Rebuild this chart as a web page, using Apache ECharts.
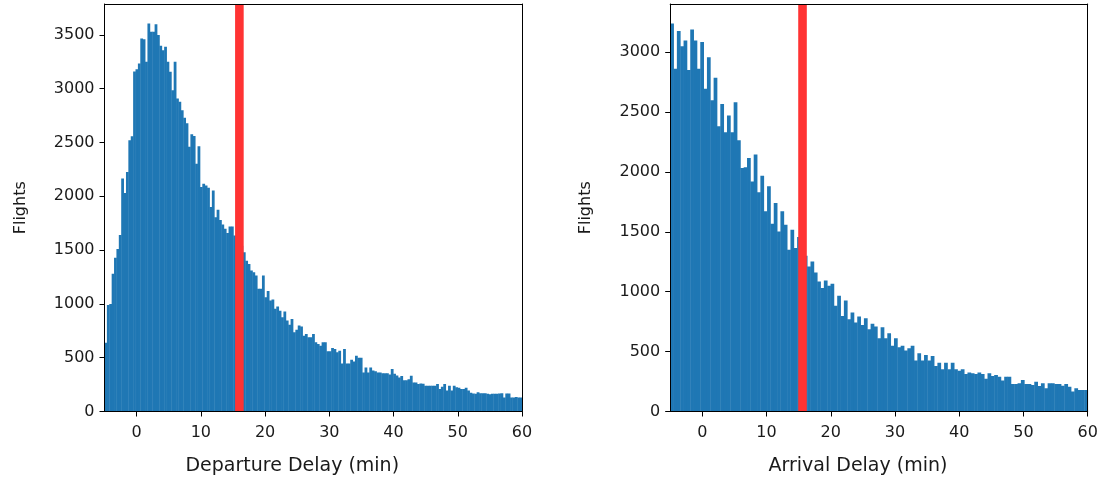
<!DOCTYPE html>
<html><head><meta charset="utf-8">
<script src="https://cdn.jsdelivr.net/npm/echarts@6/dist/echarts.min.js"></script>
<style>html,body{margin:0;padding:0;background:#fff}#c{width:1101px;height:486px}</style>
</head><body><div id="c"></div>
<script>
// ---- data ----
const depValues = [
  640, 990, 1000, 1280, 1430, 1510, 1640, 2165, 2030, 2225,
  2520, 2558, 3160, 3180, 3234, 3467, 3460, 3250, 3607, 3529,
  3529, 3600, 3500, 3400, 3358, 3389, 3250, 3157, 2986, 3250,
  2909, 2880, 2800, 2730, 2680, 2460, 2576, 2560, 2303, 2465,
  2086, 2117, 2100, 2080, 1900, 2055, 1806, 1875, 1780, 1738,
  1698, 1660, 1720, 1720, 1636, 1600, 1580, 1540, 1480, 1400,
  1372, 1310, 1294, 1263, 1140, 1140, 1263, 1061, 1121, 1031,
  1040, 956, 975, 937, 875, 930, 845, 807, 860, 736,
  760, 800, 790, 705, 720, 689, 689, 720, 643, 627,
  610, 643, 643, 559, 559, 590, 580, 550, 565, 447,
  581, 447, 447, 480, 465, 519, 500, 500, 363, 410,
  363, 410, 380, 375, 363, 363, 355, 355, 355, 345,
  395, 350, 335, 317, 330, 290, 290, 300, 332, 270,
  270, 255, 260, 258, 240, 240, 240, 240, 240, 255,
  208, 230, 255, 195, 240, 195, 240, 225, 220, 208,
  208, 220, 195, 175, 168, 165, 180, 170, 170, 170,
  165, 160, 165, 165, 165, 168, 170, 130, 168, 168,
  130, 130, 135, 130, 130
];
const arrValues = [
  3240, 2861, 3176, 3050, 3098, 2850, 3190, 3098, 2861, 3084,
  2694, 2958, 2599, 2786, 2381, 2568, 2331, 2471, 2331, 2582,
  2264, 2033, 2040, 2117, 1921, 2145, 1830, 1969, 1671, 1880,
  1568, 1741, 1503, 1671, 1559, 1350, 1518, 1364, 1456, 1380,
  1300,
  1211, 1253, 1161, 1085, 1030, 1094, 1049, 1066, 882, 966,
  798, 927, 771, 826, 743, 793, 723, 779, 687, 732,
  709, 612, 704, 612, 654, 548, 612, 537, 548, 509,
  528, 548, 425, 487, 425, 472, 425, 464, 380, 408,
  353, 408, 353, 408, 353, 341, 353, 314, 325, 319,
  314, 325, 314, 274, 319, 297, 305, 291, 258, 291,
  291, 230, 230, 236, 263, 230, 230, 222, 249, 213,
  236, 194, 236, 236, 230, 230, 216, 230, 207, 166,
  194, 180, 180, 180
];
const xMin = -5, xMax = 60;
const depMean = 16.0;
const arrMean = 15.6;
const xTicks = [0, 10, 20, 30, 40, 50, 60];
const depYTicks = [0, 500, 1000, 1500, 2000, 2500, 3000, 3500];
const arrYTicks = [0, 500, 1000, 1500, 2000, 2500, 3000];
const xNames = ['Departure Delay (min)', 'Arrival Delay (min)'];
const yName = 'Flights';

// ---- chart ----
const FONT = 'DejaVu Sans';
const BAR = '#1f77b4';
const RED = '#ff3333';
const TXT = '#1a1a1a';

function histData(vals) {
  const w = (xMax - xMin) / vals.length;
  return vals.map((v, i) => [xMin + i * w, xMin + (i + 1) * w, v]);
}
const depMax = Math.max(...depValues) * 1.05;
const arrMax = Math.max(...arrValues) * 1.05;
const plain = v => String(v);

function xMain(gi, name) {
  return {
    type: 'value', gridIndex: gi, min: xMin, max: xMax, position: 'bottom', z: 10,
    name: name, nameLocation: 'middle', nameGap: 45,
    nameTextStyle: { fontFamily: FONT, fontSize: 19, color: TXT, padding: [0, 42, 0, 0] },
    axisLine: { show: true, onZero: false, lineStyle: { color: '#000', width: 1 } },
    axisTick: { show: true, length: 5, customValues: xTicks, lineStyle: { color: '#000', width: 1 } },
    axisLabel: { customValues: xTicks, formatter: plain, fontFamily: FONT, fontSize: 16, color: TXT, margin: 13 },
    splitLine: { show: false }
  };
}
function xTop(gi) {
  return {
    type: 'value', gridIndex: gi, min: xMin, max: xMax, position: 'top', z: 10,
    axisLine: { show: true, onZero: false, lineStyle: { color: '#000', width: 1 } },
    axisTick: { show: false }, axisLabel: { show: false }, splitLine: { show: false }
  };
}
function yMain(gi, max, ticks) {
  return {
    type: 'value', gridIndex: gi, min: 0, max: max, position: 'left', z: 10,
    name: yName, nameLocation: 'middle', nameGap: 76,
    nameTextStyle: { fontFamily: FONT, fontSize: 16, color: TXT },
    axisLine: { show: true, onZero: false, lineStyle: { color: '#000', width: 1 } },
    axisTick: { show: true, length: 5, customValues: ticks, lineStyle: { color: '#000', width: 1 } },
    axisLabel: { customValues: ticks, formatter: plain, fontFamily: FONT, fontSize: 16, color: TXT, margin: 10 },
    splitLine: { show: false }
  };
}
function yRight(gi, max) {
  return {
    type: 'value', gridIndex: gi, min: 0, max: max, position: 'right', z: 10,
    axisLine: { show: true, onZero: false, lineStyle: { color: '#000', width: 1 } },
    axisTick: { show: false }, axisLabel: { show: false }, splitLine: { show: false }
  };
}
function histSeries(xi, yi, vals) {
  return {
    type: 'custom', xAxisIndex: xi, yAxisIndex: yi, clip: true, silent: true, z: 2,
    data: histData(vals),
    renderItem: function (params, api) {
      const p0 = api.coord([api.value(0), api.value(2)]);
      const p1 = api.coord([api.value(1), 0]);
      return {
        type: 'rect',
        shape: { x: p0[0], y: p0[1], width: p1[0] - p0[0] + 0.4, height: p1[1] - p0[1] },
        style: { fill: BAR }
      };
    }
  };
}
function meanLine(xi, yi, mean, max) {
  return {
    type: 'line', xAxisIndex: xi, yAxisIndex: yi, silent: true, z: 5,
    symbol: 'none', data: [[mean, 0], [mean, max]],
    lineStyle: { color: RED, width: 8.6, cap: 'butt' }
  };
}

const chart = echarts.init(document.getElementById('c'), null, { renderer: 'canvas' });
chart.setOption({
  animation: false,
  backgroundColor: '#fff',
  grid: [
    { left: 104.5, top: 4, width: 417.5, height: 407.5, outerBoundsMode: 'none', containLabel: false },
    { left: 670.2, top: 4, width: 417.5, height: 407.5, outerBoundsMode: 'none', containLabel: false }
  ],
  xAxis: [xMain(0, xNames[0]), xTop(0), xMain(1, xNames[1]), xTop(1)],
  yAxis: [yMain(0, depMax, depYTicks), yRight(0, depMax), yMain(1, arrMax, arrYTicks), yRight(1, arrMax)],
  series: [
    histSeries(0, 0, depValues),
    meanLine(0, 0, depMean, depMax),
    histSeries(2, 2, arrValues),
    meanLine(2, 2, arrMean, arrMax)
  ]
});
</script>
</body></html>
